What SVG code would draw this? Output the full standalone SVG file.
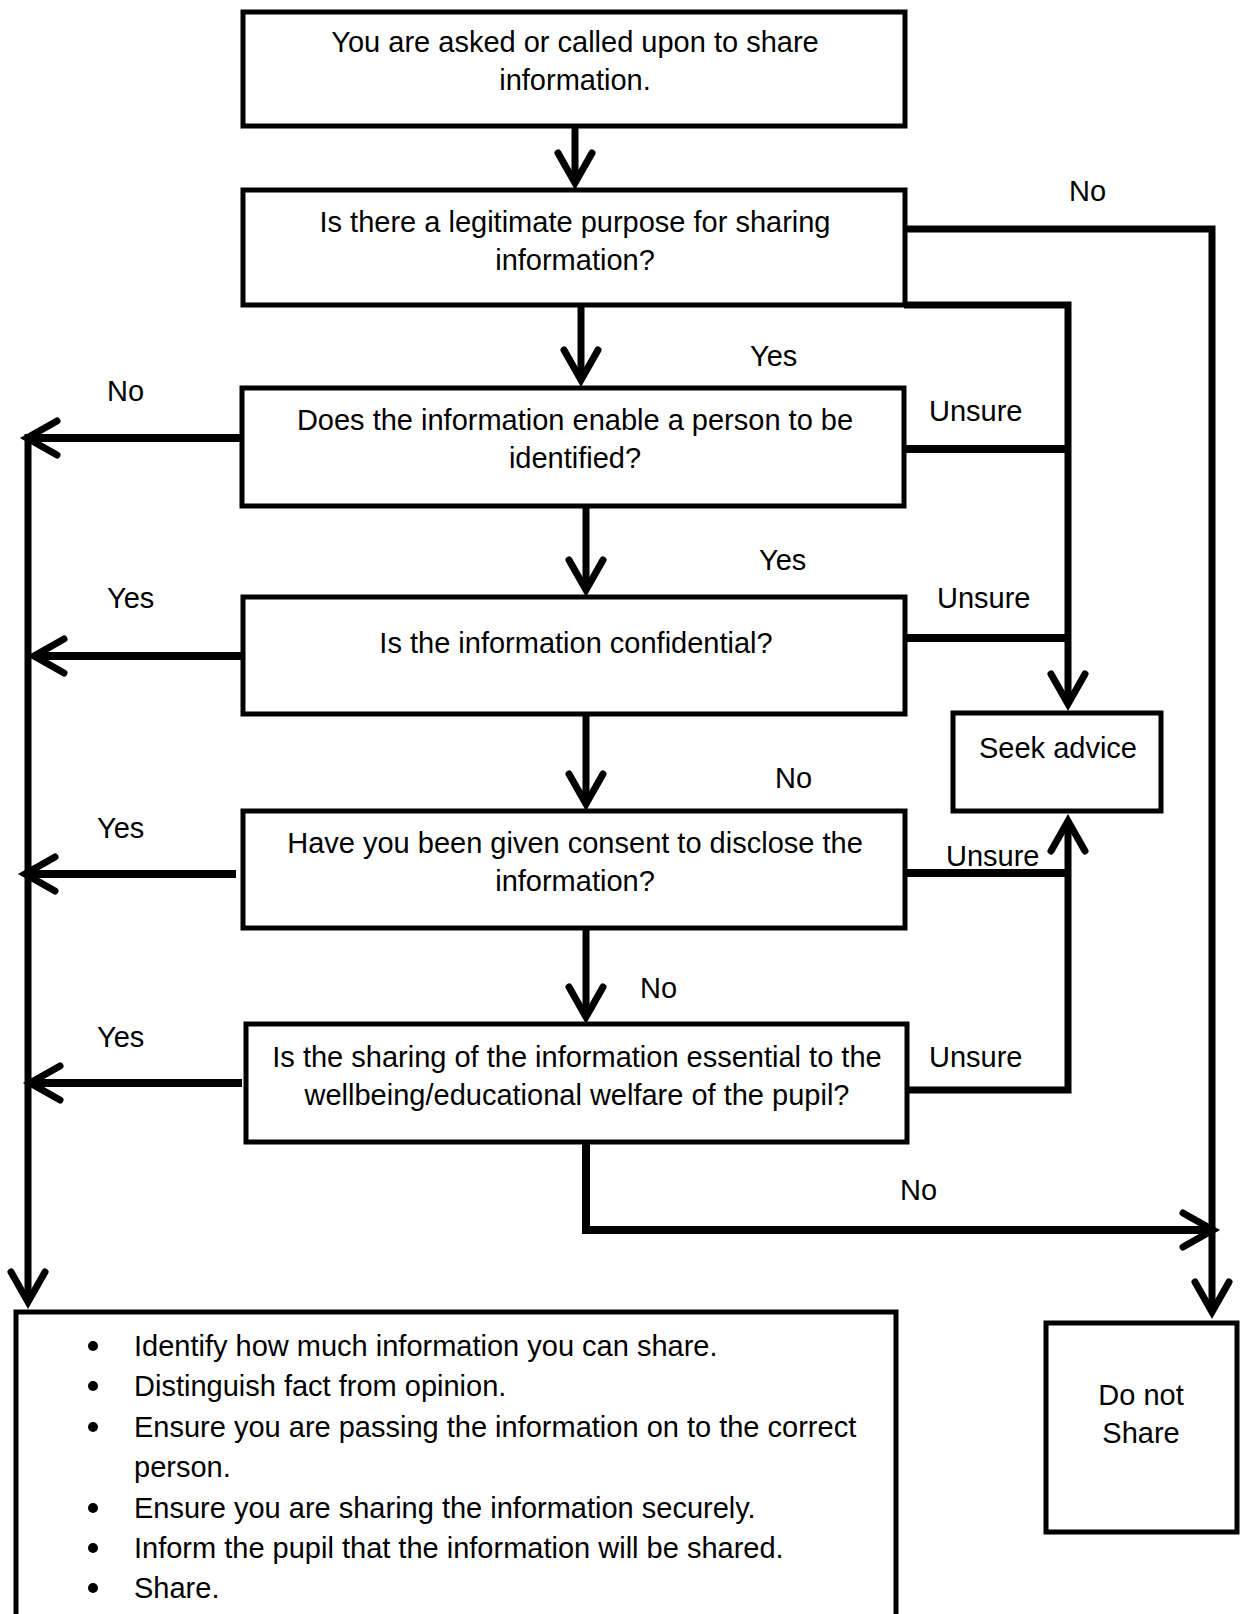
<svg xmlns="http://www.w3.org/2000/svg" width="1241" height="1614" viewBox="0 0 1241 1614">
<style>
.box{fill:#fff;stroke:#000;stroke-width:5}
.t{font-family:"Liberation Sans",Arial,sans-serif;font-size:29px;fill:#000}
.c{text-anchor:middle}
.ln{fill:none;stroke:#000;stroke-width:7;stroke-linejoin:miter}
.thick{stroke-width:8}
</style>
<defs>
<marker id="ah" markerUnits="userSpaceOnUse" markerWidth="80" markerHeight="80" viewBox="-40 -40 80 80" refX="0" refY="0" orient="auto" overflow="visible">
<path d="M-30,-17 L0,0 L-30,17" fill="none" stroke="#000" stroke-width="7" stroke-linecap="round" stroke-linejoin="miter"/>
</marker>
</defs>
<rect width="1241" height="1614" fill="#fff"/>

<g id="connectors">
<line class="ln" x1="575" y1="126" x2="575" y2="183" marker-end="url(#ah)"/>
<line class="ln" x1="581" y1="306" x2="581" y2="380" marker-end="url(#ah)"/>
<line class="ln" x1="586" y1="506" x2="586" y2="590" marker-end="url(#ah)"/>
<line class="ln" x1="586" y1="714" x2="586" y2="804" marker-end="url(#ah)"/>
<line class="ln" x1="586" y1="928" x2="586" y2="1017" marker-end="url(#ah)"/>
<polyline class="ln" points="904,229 1212,229 1212,1312" marker-end="url(#ah)"/>
<polyline class="ln thick" points="586,1142 586,1230 1213,1230" marker-end="url(#ah)"/>
<polyline class="ln" points="904,305 1068,305 1068,704" marker-end="url(#ah)"/>
<line class="ln thick" x1="904" y1="449" x2="1068" y2="449"/>
<line class="ln thick" x1="905" y1="638" x2="1068" y2="638"/>
<line class="ln thick" x1="905" y1="873" x2="1068" y2="873"/>
<polyline class="ln" points="907,1090 1068,1090 1068,821" marker-end="url(#ah)"/>
<line class="ln thick" x1="242" y1="438" x2="27" y2="438" marker-end="url(#ah)"/>
<line class="ln thick" x1="243" y1="656" x2="34" y2="656" marker-end="url(#ah)"/>
<line class="ln thick" x1="236" y1="874" x2="25" y2="874" marker-end="url(#ah)"/>
<line class="ln thick" x1="242" y1="1083" x2="30" y2="1083" marker-end="url(#ah)"/>
<line class="ln" x1="28" y1="434" x2="28" y2="1302" marker-end="url(#ah)"/>
</g>

<g id="labels">
<text class="t" x="1069" y="201">No</text>
<text class="t" x="750" y="366">Yes</text>
<text class="t" x="107" y="401">No</text>
<text class="t" x="929" y="421">Unsure</text>
<text class="t" x="759" y="570">Yes</text>
<text class="t" x="107" y="608">Yes</text>
<text class="t" x="937" y="608">Unsure</text>
<text class="t" x="775" y="788">No</text>
<text class="t" x="97" y="838">Yes</text>
<text class="t" x="946" y="866">Unsure</text>
<text class="t" x="640" y="998">No</text>
<text class="t" x="97" y="1047">Yes</text>
<text class="t" x="929" y="1067">Unsure</text>
<text class="t" x="900" y="1200">No</text>
</g>

<g id="n1">
<rect class="box" x="243" y="12" width="662" height="114"/>
<text class="t c" x="575" y="52">You are asked or called upon to share</text>
<text class="t c" x="575" y="90">information.</text>
</g>
<g id="n2">
<rect class="box" x="243" y="190" width="662" height="115"/>
<text class="t c" x="575" y="232">Is there a legitimate purpose for sharing</text>
<text class="t c" x="575" y="270">information?</text>
</g>
<g id="n3">
<rect class="box" x="242" y="388" width="662" height="118"/>
<text class="t c" x="575" y="430">Does the information enable a person to be</text>
<text class="t c" x="575" y="468">identified?</text>
</g>
<g id="n4">
<rect class="box" x="243" y="597" width="662" height="117"/>
<text class="t c" x="576" y="653">Is the information confidential?</text>
</g>
<g id="n5">
<rect class="box" x="243" y="811" width="662" height="117"/>
<text class="t c" x="575" y="853">Have you been given consent to disclose the</text>
<text class="t c" x="575" y="891">information?</text>
</g>
<g id="n6">
<rect class="box" x="246" y="1024" width="661" height="118"/>
<text class="t c" x="577" y="1067">Is the sharing of the information essential to the</text>
<text class="t c" x="577" y="1105">wellbeing/educational welfare of the pupil?</text>
</g>
<g id="seek">
<rect class="box" x="953" y="713" width="208" height="98"/>
<text class="t c" x="1058" y="758">Seek advice</text>
</g>
<g id="donot">
<rect class="box" x="1046" y="1323" width="191" height="209"/>
<text class="t c" x="1141" y="1405">Do not</text>
<text class="t c" x="1141" y="1443">Share</text>
</g>
<g id="share">
<rect class="box" x="16" y="1312" width="880" height="330"/>
<g class="t">
<circle cx="93" cy="1346" r="5"/>
<text x="134" y="1356">Identify how much information you can share.</text>
<circle cx="93" cy="1386" r="5"/>
<text x="134" y="1396">Distinguish fact from opinion.</text>
<circle cx="93" cy="1427" r="5"/>
<text x="134" y="1437">Ensure you are passing the information on to the correct</text>
<text x="134" y="1477">person.</text>
<circle cx="93" cy="1508" r="5"/>
<text x="134" y="1518">Ensure you are sharing the information securely.</text>
<circle cx="93" cy="1548" r="5"/>
<text x="134" y="1558">Inform the pupil that the information will be shared.</text>
<circle cx="93" cy="1588" r="5"/>
<text x="134" y="1598">Share.</text>
</g>
</g>
</svg>
